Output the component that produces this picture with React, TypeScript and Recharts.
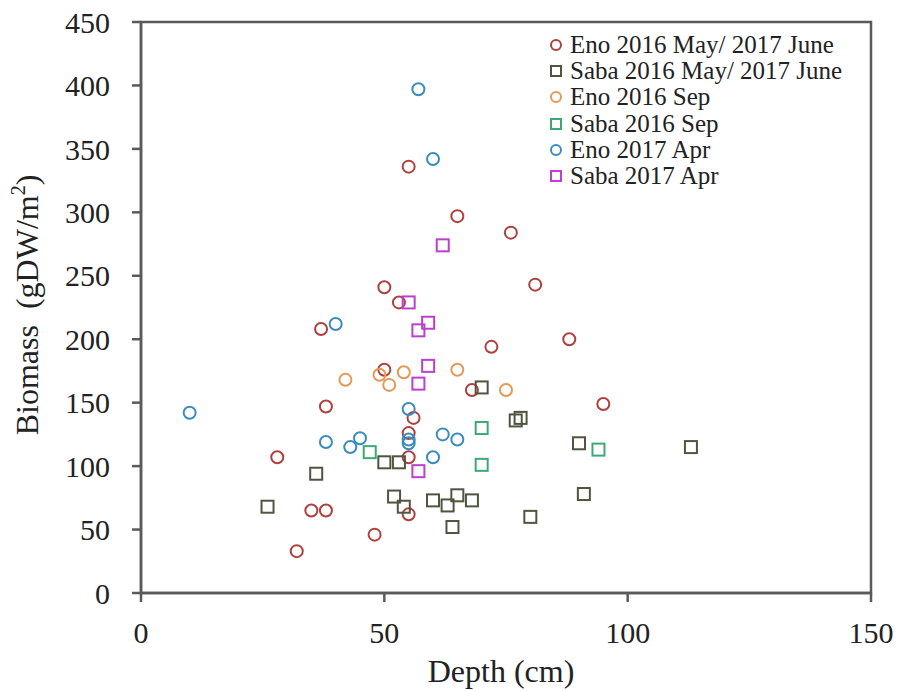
import React from 'react';
import {
  ScatterChart,
  Scatter,
  XAxis,
  YAxis,
  ReferenceArea,
} from 'recharts';

// Depth (cm) and biomass (gDW/m2)
const enoMayJuneDepth = [28, 32, 35, 38, 37, 38, 48, 50, 50, 53, 55, 55, 55, 55, 56, 65, 68, 72, 76, 81, 88, 95];
const enoMayJuneBiomass = [107, 33, 65, 65, 208, 147, 46, 241, 176, 229, 336, 126, 107, 62, 138, 297, 160, 194, 284, 243, 200, 149];

const sabaMayJuneDepth = [26, 36, 50, 53, 52, 54, 60, 63, 65, 68, 64, 70, 77, 78, 80, 90, 91, 113];
const sabaMayJuneBiomass = [68, 94, 103, 103, 76, 68, 73, 69, 77, 73, 52, 162, 136, 138, 60, 118, 78, 115];

const enoSepDepth = [42, 49, 51, 54, 65, 75];
const enoSepBiomass = [168, 172, 164, 174, 176, 160];

const sabaSepDepth = [47, 70, 70, 94];
const sabaSepBiomass = [111, 130, 101, 113];

const enoAprDepth = [10, 38, 40, 43, 45, 55, 55, 55, 57, 60, 60, 62, 65];
const enoAprBiomass = [142, 119, 212, 115, 122, 145, 121, 118, 397, 342, 107, 125, 121];

const sabaAprDepth = [55, 57, 59, 59, 57, 57, 62];
const sabaAprBiomass = [229, 207, 213, 179, 165, 96, 274];

const xTicks = [0, 50, 100, 150];
const yTicks = [0, 50, 100, 150, 200, 250, 300, 350, 400, 450];

const toPoints = (xs: number[], ys: number[]) => xs.map((x, i) => ({ x, y: ys[i] }));

const series = [
  { name: 'Eno 2016 May/ 2017 June', shape: 'circle', color: '#B0403F', data: toPoints(enoMayJuneDepth, enoMayJuneBiomass) },
  { name: 'Saba 2016 May/ 2017 June', shape: 'square', color: '#4E5640', data: toPoints(sabaMayJuneDepth, sabaMayJuneBiomass) },
  { name: 'Eno 2016 Sep', shape: 'circle', color: '#E39A55', data: toPoints(enoSepDepth, enoSepBiomass) },
  { name: 'Saba 2016 Sep', shape: 'square', color: '#3EA874', data: toPoints(sabaSepDepth, sabaSepBiomass) },
  { name: 'Eno 2017 Apr', shape: 'circle', color: '#3A8CC0', data: toPoints(enoAprDepth, enoAprBiomass) },
  { name: 'Saba 2017 Apr', shape: 'square', color: '#BE3ECF', data: toPoints(sabaAprDepth, sabaAprBiomass) },
];

const FONT = '"Liberation Serif", "Times New Roman", serif';

const makeShape = (kind: string, color: string) => (props: any) => {
  const { cx, cy } = props;
  if (cx == null || cy == null) return <g />;
  if (kind === 'circle') {
    return <circle cx={cx} cy={cy} r={6} fill="none" stroke={color} strokeWidth={2} />;
  }
  return <rect x={cx - 6} y={cy - 6} width={12} height={12} fill="none" stroke={color} strokeWidth={2} />;
};

const YLabel = () => (
  <text
    transform="translate(38, 305) rotate(-90)"
    textAnchor="middle"
    fontFamily={FONT}
    fontSize={32}
    fill="#222"
    style={{ whiteSpace: 'pre' }}
  >
    {'Biomass  (gDW/m'}
    <tspan fontSize={20} dy={-13}>2</tspan>
    <tspan dy={13}>)</tspan>
  </text>
);

const XLabel = () => (
  <text x={501} y={682} textAnchor="middle" fontFamily={FONT} fontSize={32} fill="#222">
    Depth (cm)
  </text>
);

function LegendBox() {
  return (
    <div style={{ position: 'absolute', left: 548, top: 32, fontFamily: FONT, fontSize: 25, color: '#222' }}>
      {series.map((s) => (
        <div key={s.name} style={{ display: 'flex', alignItems: 'center', height: 26.2, lineHeight: '26px', whiteSpace: 'nowrap' }}>
          <svg width={16} height={16} style={{ marginRight: 6 }}>
            {s.shape === 'circle' ? (
              <circle cx={8} cy={8} r={5} fill="none" stroke={s.color} strokeWidth={2} />
            ) : (
              <rect x={3} y={3} width={10} height={10} fill="none" stroke={s.color} strokeWidth={2} />
            )}
          </svg>
          <span>{s.name}</span>
        </div>
      ))}
    </div>
  );
}

export default function App() {
  const tickStyle = { fontFamily: FONT, fontSize: 30, fill: '#222' };
  return (
    <div style={{ position: 'absolute', left: 0, top: 0, width: 899, height: 691, background: '#fff' }}>
      <ScatterChart width={899} height={691} margin={{ top: 22, right: 28, bottom: 38, left: 0 }}>
        <ReferenceArea x1={0} x2={150} y1={0} y2={450} fill="none" stroke="#5a5a5a" strokeWidth={2.5} />
        <XAxis
          type="number"
          dataKey="x"
          domain={[0, 150]}
          ticks={xTicks}
          interval={0}
          height={60}
          tickSize={9}
          tickMargin={20}
          stroke="#5a5a5a"
          strokeWidth={2.5}
          tick={tickStyle}
          label={<XLabel />}
        />
        <YAxis
          type="number"
          dataKey="y"
          domain={[0, 450]}
          ticks={yTicks}
          interval={0}
          width={141}
          tickSize={9}
          tickMargin={22}
          stroke="#5a5a5a"
          strokeWidth={2.5}
          tick={tickStyle}
          label={<YLabel />}
        />
        {series.map((s) => (
          <Scatter
            key={s.name}
            name={s.name}
            data={s.data}
            shape={makeShape(s.shape, s.color)}
            isAnimationActive={false}
          />
        ))}
      </ScatterChart>
      <LegendBox />
    </div>
  );
}
